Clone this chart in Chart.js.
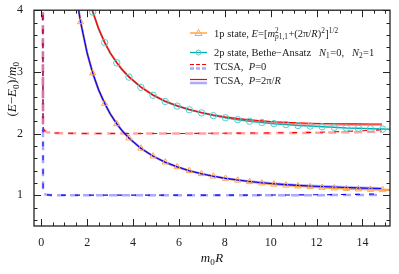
<!DOCTYPE html>
<html>
<head>
<meta charset="utf-8">
<script src="https://cdn.jsdelivr.net/npm/chart.js@4.4.1/dist/chart.umd.min.js"></script>
<style>
  html, body { margin: 0; padding: 0; background: #fff; }
  canvas { display: block; }
</style>
</head>
<body>
<canvas id="energyChart" width="399" height="274" style="width:399px;height:274px"></canvas>
<script>
// Ejes
const xMin = -0.32, xMax = 15.2;
const yMin = 0.5, yMax = 4;
const xTickVals = [0, 2, 4, 6, 8, 10, 12, 14];
const yTickVals = [1, 2, 3, 4];

// Puntos de los marcadores (1p y 2p)
const onePR = [1.71, 2.24, 2.76, 3.29, 3.82, 4.34, 4.87, 5.40, 5.92, 6.45, 6.98, 7.50, 8.03,
               8.56, 9.08, 9.61, 10.14, 10.66, 11.19, 11.72, 12.24, 12.77, 13.30, 13.82, 14.35, 14.88];
const onePVals = [3.81, 2.98, 2.486, 2.156, 1.925, 1.759, 1.632, 1.534, 1.458, 1.396, 1.346, 1.305, 1.27,
                  1.241, 1.216, 1.195, 1.176, 1.161, 1.147, 1.135, 1.124, 1.115, 1.106, 1.099, 1.092, 1.086];
const twoPR = [2.24, 2.76, 3.29, 3.82, 4.34, 4.87, 5.40, 5.92, 6.45, 6.98, 7.50, 8.03,
               8.56, 9.08, 9.61, 10.14, 10.66, 11.19, 11.72, 12.24, 12.77, 13.30, 13.82, 14.35, 14.88];
const twoPVals = [3.97, 3.475, 3.145, 2.915, 2.75, 2.62, 2.52, 2.445, 2.385, 2.335, 2.29, 2.255,
                  2.225, 2.20, 2.18, 2.16, 2.145, 2.13, 2.12, 2.11, 2.10, 2.09, 2.085, 2.078, 2.072];

// Curvas analíticas (líneas continuas)
const onePLineR = [1.55, 1.71, 2.0, 2.24, 2.5, 2.76, 3.0, 3.29, 3.5, 3.82, 4.34, 4.87, 5.4, 5.92, 6.45, 6.98,
                   7.5, 8.03, 8.56, 9.08, 9.61, 10.14, 10.66, 11.19, 11.72, 12.24, 12.77, 13.3, 13.82, 14.35, 14.88, 15.2];
const onePLineVals = [4.17, 3.81, 3.30, 2.98, 2.705, 2.486, 2.32, 2.156, 2.055, 1.925, 1.759, 1.632, 1.534, 1.458,
                      1.396, 1.346, 1.305, 1.27, 1.241, 1.216, 1.195, 1.176, 1.161, 1.147, 1.135, 1.124, 1.115,
                      1.106, 1.099, 1.092, 1.086, 1.082];
const twoPLineR = [2.15, 2.24, 2.5, 2.76, 3.0, 3.29, 3.5, 3.82, 4.34, 4.87, 5.4, 5.92, 6.45, 6.98,
                   7.5, 8.03, 8.56, 9.08, 9.61, 10.14, 10.66, 11.19, 11.72, 12.24, 12.77, 13.3, 13.82, 14.35, 14.88, 15.2];
const twoPLineVals = [4.1, 3.97, 3.69, 3.475, 3.305, 3.145, 3.04, 2.915, 2.75, 2.62, 2.52, 2.445, 2.385, 2.335,
                      2.29, 2.255, 2.225, 2.20, 2.18, 2.16, 2.145, 2.13, 2.12, 2.11, 2.10, 2.09, 2.085, 2.078, 2.072, 2.069];

// TCSA, P=2π/R (continuas)
const tcsaR = [1.55, 1.71, 2.0, 2.24, 2.5, 2.76, 3.0, 3.29, 3.5, 3.82, 4.34, 4.87, 5.4, 5.92, 6.45, 6.98,
               7.5, 8.03, 8.56, 9.08, 9.61, 10.14, 10.66, 11.19, 11.72, 12.24, 12.77, 13.3, 13.82, 14.35, 14.85];
const tcsaRedVals = [5.2, 4.8, 4.28, 3.98, 3.70, 3.48, 3.31, 3.15, 3.05, 2.92, 2.755, 2.625, 2.525, 2.45,
                     2.39, 2.34, 2.30, 2.268, 2.242, 2.222, 2.205, 2.19, 2.18, 2.172, 2.166, 2.162, 2.159,
                     2.157, 2.156, 2.155, 2.155];
const tcsaRedLightVals = [5.2, 4.8, 4.28, 3.98, 3.70, 3.48, 3.31, 3.15, 3.05, 2.92, 2.755, 2.625, 2.525, 2.45,
                          2.39, 2.34, 2.30, 2.266, 2.238, 2.215, 2.196, 2.18, 2.168, 2.158, 2.152, 2.148, 2.145,
                          2.143, 2.141, 2.14, 2.14];
const tcsaBlueVals = [4.17, 3.81, 3.30, 2.98, 2.705, 2.49, 2.32, 2.157, 2.055, 1.926, 1.76, 1.633, 1.535, 1.46,
                      1.397, 1.347, 1.307, 1.273, 1.245, 1.222, 1.202, 1.185, 1.171, 1.159, 1.149, 1.14, 1.132,
                      1.125, 1.119, 1.113, 1.108];
const tcsaBlueLightVals = [4.17, 3.81, 3.30, 2.98, 2.705, 2.49, 2.32, 2.157, 2.055, 1.926, 1.76, 1.633, 1.535, 1.46,
                           1.397, 1.347, 1.308, 1.275, 1.248, 1.226, 1.207, 1.19, 1.177, 1.165, 1.155, 1.146, 1.138,
                           1.131, 1.124, 1.117, 1.112];

// TCSA, P=0 (discontinuas)
const p0R = [0.065, 0.075, 0.12, 0.25, 0.5, 1, 2, 4, 6, 8, 10, 12, 13, 14, 14.85];
const p0RedVals = [4.6, 2.12, 2.05, 2.02, 2.01, 2.005, 2.0, 2.0, 2.0, 2.005, 2.01, 2.02, 2.03, 2.045, 2.06];
const p0RedLightVals = [4.6, 2.12, 2.05, 2.02, 2.01, 2.005, 2.0, 2.0, 2.0, 2.003, 2.006, 2.012, 2.018, 2.025, 2.03];
const p0BlueVals = [4.6, 1.07, 1.02, 1.005, 1.0, 1.0, 1.0, 1.0, 1.0, 1.0, 1.002, 1.006, 1.01, 1.015, 1.02];
const p0BlueLightVals = [4.6, 1.07, 1.02, 1.005, 1.0, 1.0, 1.0, 1.0, 1.0, 1.0, 1.0, 1.0, 1.002, 1.004, 1.005];

const FONT = '"Liberation Serif", "DejaVu Serif", serif';
const ORANGE = '#ffa64d', TEAL = '#00b0b0', CYAN_MK = '#55cccc';
const RED = '#ff0000', RED_LIGHT = 'rgba(255,70,70,0.5)';
const BLUE = '#0000ff', BLUE_LIGHT = 'rgba(100,100,255,0.55)';

const pts = (xs, ys) => xs.map((x, i) => ({ x: x, y: ys[i] }));

// Texto con cursiva, subíndices y superíndices
function richText(ctx, runs, x, y, size) {
    let cx = x;
    const fontFor = (it, s) => (it ? 'italic ' : '') + s + 'px ' + FONT;
    const piece = (r, px, dy, s) => {
        ctx.font = fontFor(r[1] === 'i', s);
        ctx.fillText(r[0], px, y + dy);
        return ctx.measureText(r[0]).width;
    };
    runs.forEach(r => {
        if (r.sup || r.sub) {
            const s = size * 0.7;
            let wSup = 0, wSub = 0;
            (r.sup || []).forEach(p => { wSup += piece(p, cx + wSup, -size * 0.38, s); });
            (r.sub || []).forEach(p => { wSub += piece(p, cx + wSub, size * 0.22, s); });
            cx += Math.max(wSup, wSub) + 0.5;
        } else {
            cx += piece(r, cx, 0, size);
        }
    });
    return cx - x;
}

const legendRows = [
    { y: 34, runs: [['1p state, ', 'n'], ['E', 'i'], ['=[', 'n'], ['m', 'i'],
        { sup: [['2', 'n']], sub: [['p', 'i'], ['1', 'n'], [',1', 'n']] },
        ['+(2π/', 'n'], ['R', 'i'], [')', 'n'], { sup: [['2', 'n']] }, [']', 'n'], { sup: [['1/2', 'n']] }] },
    { y: 53, runs: [['2p state, Bethe−Ansatz   ', 'n'], ['N', 'i'], { sub: [['1', 'n']] }, ['=0,   ', 'n'],
        ['N', 'i'], { sub: [['2', 'n']] }, ['=1', 'n']] },
    { y: 67, runs: [['TCSA,  ', 'n'], ['P', 'i'], ['=0', 'n']] },
    { y: 81, runs: [['TCSA,  ', 'n'], ['P', 'i'], ['=2π/', 'n'], ['R', 'i']] }
];

const decorPlugin = {
    id: 'decor',
    afterDraw(chart) {
        const { ctx, chartArea: a, scales: { x, y } } = chart;
        ctx.save();
        // Marco y marcas interiores
        ctx.strokeStyle = '#222';
        ctx.lineWidth = 1;
        ctx.beginPath();
        for (let v = 0; v <= 15; v += 0.5) {
            const px = Math.round(x.getPixelForValue(v)) + 0.5;
            const len = (v % 2 === 0) ? 7 : 3.5;
            ctx.moveTo(px, a.bottom); ctx.lineTo(px, a.bottom - len);
            ctx.moveTo(px, a.top); ctx.lineTo(px, a.top + len);
        }
        for (let v = 0.6; v < 4.01; v += 0.2) {
            const py = Math.round(y.getPixelForValue(v)) + 0.5;
            const major = Math.abs(v - Math.round(v)) < 0.01;
            const len = major ? 7 : 3.5;
            ctx.moveTo(a.left, py); ctx.lineTo(a.left + len, py);
            ctx.moveTo(a.right, py); ctx.lineTo(a.right - len, py);
        }
        ctx.stroke();
        ctx.lineWidth = 1.3;
        ctx.strokeRect(a.left, a.top, a.right - a.left, a.bottom - a.top);

        // Títulos de ejes
        ctx.fillStyle = '#111';
        ctx.textBaseline = 'alphabetic';
        ctx.textAlign = 'left';
        const xt = [['m', 'i'], { sub: [['0', 'n']] }, ['R', 'i']];
        ctx.globalAlpha = 0;
        const wx = richText(ctx, xt, 0, -100, 13);
        ctx.globalAlpha = 1;
        richText(ctx, xt, 212 - wx / 2, 262, 13);

        const yt = [['(', 'n'], ['E', 'i'], ['−', 'n'], ['E', 'i'], { sub: [['0', 'n']] }, [')/', 'n'],
                    ['m', 'i'], { sub: [['0', 'n']] }];
        ctx.globalAlpha = 0;
        const wy = richText(ctx, yt, 0, -100, 13);
        ctx.globalAlpha = 1;
        ctx.save();
        ctx.translate(16, 89);
        ctx.rotate(-Math.PI / 2);
        richText(ctx, yt, -wy / 2, 0, 13);
        ctx.restore();

        // Leyenda
        const lx0 = 190, lx1 = 207, tx = 214;
        // 1p
        ctx.strokeStyle = ORANGE; ctx.lineWidth = 1.5; ctx.setLineDash([]);
        ctx.beginPath(); ctx.moveTo(lx0, 33); ctx.lineTo(lx1, 33); ctx.stroke();
        ctx.lineWidth = 1;
        ctx.beginPath(); ctx.moveTo(198.5, 29.5); ctx.lineTo(202, 35.5); ctx.lineTo(195, 35.5); ctx.closePath(); ctx.stroke();
        // 2p
        ctx.strokeStyle = TEAL; ctx.lineWidth = 1.3;
        ctx.beginPath(); ctx.moveTo(lx0, 52.5); ctx.lineTo(lx1, 52.5); ctx.stroke();
        ctx.strokeStyle = CYAN_MK; ctx.lineWidth = 1;
        ctx.beginPath(); ctx.arc(198.5, 52.5, 2.5, 0, Math.PI * 2); ctx.stroke();
        // TCSA P=0
        ctx.setLineDash([4, 2]);
        ctx.strokeStyle = RED; ctx.lineWidth = 1.2;
        ctx.beginPath(); ctx.moveTo(lx0, 64.5); ctx.lineTo(lx1, 64.5); ctx.stroke();
        ctx.strokeStyle = BLUE_LIGHT; ctx.lineWidth = 2.5;
        ctx.beginPath(); ctx.moveTo(lx0, 68.5); ctx.lineTo(lx1, 68.5); ctx.stroke();
        // TCSA P=2π/R
        ctx.setLineDash([]);
        ctx.strokeStyle = RED; ctx.lineWidth = 1.2;
        ctx.beginPath(); ctx.moveTo(lx0, 79.5); ctx.lineTo(lx1, 79.5); ctx.stroke();
        ctx.strokeStyle = BLUE_LIGHT; ctx.lineWidth = 2.5;
        ctx.beginPath(); ctx.moveTo(lx0, 83); ctx.lineTo(lx1, 83); ctx.stroke();

        ctx.fillStyle = '#222';
        legendRows.forEach(r => richText(ctx, r.runs, tx, r.y + 3, 10.5));
        ctx.restore();
    }
};

const lineBase = { showLine: true, pointRadius: 0, pointHoverRadius: 0, fill: false, tension: 0 };

new Chart(document.getElementById('energyChart'), {
    type: 'scatter',
    data: {
        datasets: [
            { label: '2p markers', data: pts(twoPR, twoPVals), showLine: false, pointStyle: 'circle',
              pointRadius: 3.2, borderColor: CYAN_MK, backgroundColor: 'rgba(0,0,0,0)', borderWidth: 1 },
            { label: '1p markers', data: pts(onePR, onePVals), showLine: false, pointStyle: 'triangle',
              pointRadius: 3.6, borderColor: ORANGE, backgroundColor: 'rgba(0,0,0,0)', borderWidth: 1 },
            { label: 'TCSA P=2pi/R red', data: pts(tcsaR, tcsaRedVals), borderColor: RED, borderWidth: 1.1, ...lineBase },
            { label: 'TCSA P=2pi/R blue', data: pts(tcsaR, tcsaBlueVals), borderColor: BLUE, borderWidth: 1.1, ...lineBase },
            { label: 'TCSA P=0 red', data: pts(p0R, p0RedVals), borderColor: RED, borderWidth: 1.1,
              borderDash: [5, 9], ...lineBase },
            { label: 'TCSA P=0 blue', data: pts(p0R, p0BlueVals), borderColor: BLUE, borderWidth: 1.1,
              borderDash: [5, 9], ...lineBase },
            { label: 'TCSA P=2pi/R red light', data: pts(tcsaR, tcsaRedLightVals), borderColor: RED_LIGHT, borderWidth: 2.2, ...lineBase },
            { label: 'TCSA P=2pi/R blue light', data: pts(tcsaR, tcsaBlueLightVals), borderColor: BLUE_LIGHT, borderWidth: 2.2, ...lineBase },
            { label: 'TCSA P=0 red light', data: pts(p0R, p0RedLightVals), borderColor: RED_LIGHT, borderWidth: 2.5,
              borderDash: [8, 5], ...lineBase },
            { label: 'TCSA P=0 blue light', data: pts(p0R, p0BlueLightVals), borderColor: BLUE_LIGHT, borderWidth: 2.5,
              borderDash: [8, 5], ...lineBase },
            { label: '2p line', data: pts(twoPLineR, twoPLineVals), borderColor: TEAL, borderWidth: 1.5, ...lineBase },
            { label: '1p line', data: pts(onePLineR, onePLineVals), borderColor: '#ff9933', borderWidth: 2, ...lineBase }
        ]
    },
    options: {
        responsive: false,
        animation: false,
        devicePixelRatio: 1,
        layout: { padding: { top: 5, right: 9, bottom: 0, left: 0 } },
        plugins: { legend: { display: false }, tooltip: { enabled: false } },
        scales: {
            x: {
                type: 'linear', min: xMin, max: xMax,
                afterBuildTicks: s => { s.ticks = xTickVals.map(v => ({ value: v })); },
                afterFit: s => { s.height = 48; },
                grid: { display: false }, border: { display: false },
                ticks: { font: { family: FONT, size: 12 }, color: '#222', padding: 2, maxRotation: 0, autoSkip: false }
            },
            y: {
                type: 'linear', min: yMin, max: yMax,
                afterBuildTicks: s => { s.ticks = yTickVals.map(v => ({ value: v })); },
                afterFit: s => { s.width = 34; },
                grid: { display: false }, border: { display: false },
                ticks: { font: { family: FONT, size: 12 }, color: '#222', padding: 3, autoSkip: false }
            }
        }
    },
    plugins: [decorPlugin]
});
</script>
</body>
</html>
